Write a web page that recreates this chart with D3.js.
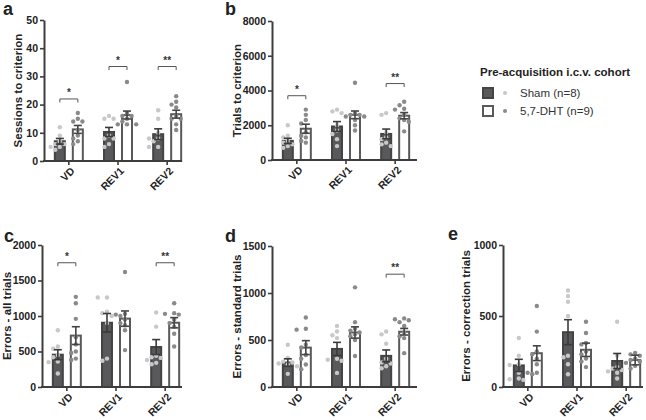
<!DOCTYPE html>
<meta charset="utf-8">
<style>
  body { margin: 0; background: #fff; }
  text { font-family: "Liberation Sans", Arial, sans-serif; }
</style>
<svg width="646" height="420"></svg>
<script src="https://d3js.org/d3.v7.min.js"></script>
<script>
var categories = ["VD", "REV1", "REV2"];
var groups = ["sham", "dht"];
var legendLabels = ["Sham (n=8)", "5,7-DHT (n=9)"];
var legendTitle = "Pre-acquisition i.c.v. cohort";

// a - sessions to criterion
var sessionsShamMean = [7, 10.3, 9.5];
var sessionsShamSem = [1.0, 1.6, 1.9];
var sessionsDhtMean = [11.2, 16.3, 16.6];
var sessionsDhtSem = [1.4, 1.4, 1.4];
var sessionsShamPts = [[12, 9, 7, 6, 6, 5, 5, 4], [16, 15, 15, 9, 8, 8, 6, 5], [18, 15, 10, 8, 8, 7, 5, 5]];
var sessionsDhtPts = [[17, 15, 14, 14, 11, 9, 8, 7, 6], [28, 17, 16, 16, 15, 14, 13, 13, 13], [23, 21, 20, 19, 16, 15, 15, 13, 11]];
var sessionsSig = [["VD", 22, "*"], ["REV1", 33.5, "*"], ["REV2", 33.5, "**"]];

// b - trials to criterion
var trialsShamMean = [1100, 1930, 1500];
var trialsShamSem = [150, 280, 280];
var trialsDhtMean = [1800, 2600, 2550];
var trialsDhtSem = [260, 220, 180];
var trialsShamPts = [[2000, 1400, 1300, 1100, 1000, 900, 800, 700], [2800, 2900, 2700, 2000, 1700, 1500, 1200, 800], [2700, 2600, 1600, 1300, 1200, 1000, 900, 800]];
var trialsDhtPts = [[2900, 2600, 2300, 2100, 1600, 1400, 1300, 1100, 1000], [4450, 2700, 2600, 2600, 2500, 2500, 2300, 2000, 1700], [3350, 3150, 2950, 2900, 2600, 2400, 2300, 2200, 1650]];
var trialsSig = [["VD", 3700, "*"], ["REV2", 4400, "**"]];

// c - errors, all trials
var allShamMean = [455, 905, 563];
var allShamSem = [70, 130, 105];
var allDhtMean = [724, 963, 905];
var allDhtSem = [125, 108, 72];
var allShamPts = [[800, 570, 540, 450, 420, 360, 350, 190], [1260, 1260, 1060, 1040, 1000, 900, 400, 370], [1050, 850, 440, 420, 410, 380, 340, 320]];
var allDhtPts = [[1270, 1180, 960, 700, 600, 500, 480, 400, 380], [1620, 1030, 1020, 1000, 950, 900, 870, 800, 520], [1180, 1040, 1030, 1020, 950, 900, 850, 750, 570]];
var allSig = [["VD", 1750, "*"], ["REV2", 1750, "**"]];

// d - errors, standard trials
var stdShamMean = [260, 405, 331];
var stdShamSem = [40, 70, 63];
var stdDhtMean = [419, 580, 588];
var stdDhtSem = [74, 60, 35];
var stdShamPts = [[450, 310, 270, 260, 250, 240, 220, 140], [650, 590, 550, 520, 300, 290, 280, 150], [590, 560, 460, 300, 260, 250, 220, 200]];
var stdDhtPts = [[740, 620, 610, 450, 420, 340, 300, 240, 190], [1060, 690, 620, 600, 580, 560, 540, 500, 330], [730, 720, 710, 690, 650, 580, 540, 520, 360]];
var stdSig = [["REV2", 1200, "**"]];

// e - errors, correction trials
var corShamMean = [152, 386, 183];
var corShamSem = [43, 88, 53];
var corDhtMean = [238, 262, 190];
var corDhtSem = [52, 47, 34];
var corShamPts = [[345, 220, 160, 155, 100, 60, 50, 55], [680, 640, 600, 500, 220, 210, 160, 90], [460, 220, 140, 130, 120, 110, 100, 60]];
var corDhtPts = [[570, 390, 250, 230, 200, 160, 100, 100, 90], [460, 380, 310, 300, 250, 230, 200, 180, 140], [240, 230, 220, 200, 190, 180, 170, 150, 130]];
var corSig = [];

var svg = d3.select("svg");
var axisCol = "#3d3d3d",
    shamFill = "#59595c",
    shamDot = "#c8c8c8",
    dhtDot = "#8a8a8a",
    font = '"Liberation Sans", Arial, sans-serif';

var panels = [
  {letter: "a", lx: 3, ly: 15, title: "Sessions to criterion", tx: 18, x0: 44, x1: 182, yTop: 20, yZero: 161, max: 50, step: 10,
   sm: sessionsShamMean, ss: sessionsShamSem, dm: sessionsDhtMean, ds: sessionsDhtSem, sp: sessionsShamPts, dp: sessionsDhtPts, sig: sessionsSig},
  {letter: "b", lx: 225, ly: 15, title: "Trials to criterion", tx: 237, x0: 272, x1: 417, yTop: 21, yZero: 160, max: 8000, step: 2000,
   sm: trialsShamMean, ss: trialsShamSem, dm: trialsDhtMean, ds: trialsDhtSem, sp: trialsShamPts, dp: trialsDhtPts, sig: trialsSig},
  {letter: "c", lx: 4, ly: 242, title: "Errors - all trials", tx: 7, x0: 42, x1: 182, yTop: 245, yZero: 387, max: 2000, step: 500,
   sm: allShamMean, ss: allShamSem, dm: allDhtMean, ds: allDhtSem, sp: allShamPts, dp: allDhtPts, sig: allSig},
  {letter: "d", lx: 225, ly: 242, title: "Errors - standard trials", tx: 237, x0: 272, x1: 417, yTop: 246, yZero: 387, max: 1500, step: 500,
   sm: stdShamMean, ss: stdShamSem, dm: stdDhtMean, ds: stdDhtSem, sp: stdShamPts, dp: stdDhtPts, sig: stdSig},
  {letter: "e", lx: 448, ly: 240, title: "Errors - correction trials", tx: 466, x0: 503, x1: 643, yTop: 245, yZero: 387, max: 1000, step: 500,
   sm: corShamMean, ss: corShamSem, dm: corDhtMean, ds: corDhtSem, sp: corShamPts, dp: corDhtPts, sig: corSig}
];

panels.forEach(function(p) {
  var g = svg.append("g");

  var x = d3.scaleBand()
      .domain(categories)
      .range([p.x0, p.x0 + 148])
      .paddingInner(0.39)
      .paddingOuter(0.2);

  var xs = d3.scaleBand()
      .domain(groups)
      .range([0, x.bandwidth()])
      .paddingInner(0.333);

  var y = d3.scaleLinear()
      .domain([0, p.max])
      .range([p.yZero, p.yTop]);

  var bw = xs.bandwidth();
  function cx(cat, grp) { return x(cat) + xs(grp) + bw / 2; }

  var series = [
    {grp: "sham", mean: p.sm, sem: p.ss, pts: p.sp},
    {grp: "dht", mean: p.dm, sem: p.ds, pts: p.dp}
  ];

  // bars
  series.forEach(function(s) {
    g.selectAll(null)
      .data(categories)
      .enter().append("rect")
        .attr("x", function(c) { return x(c) + xs(s.grp) + 1; })
        .attr("width", bw - 2)
        .attr("y", function(c, i) { return y(s.mean[i]); })
        .attr("height", function(c, i) { return y(0) - y(s.mean[i]); })
        .attr("fill", s.grp == "sham" ? shamFill : "#fff")
        .attr("stroke", s.grp == "sham" ? "#444" : shamFill)
        .attr("stroke-width", 2);
  });

  // points (simple beeswarm so dots don't overlap)
  var r = 2.2;
  series.forEach(function(s) {
    categories.forEach(function(c, i) {
      var center = cx(c, s.grp);
      var placed = [];
      s.pts[i].slice().sort(d3.descending).forEach(function(v) {
        var py = y(v);
        var offs = [0, -4.6, 4.6, -9.2, 9.2, -2.3, 2.3, -6.9, 6.9];
        var px = center;
        for (var k = 0; k < offs.length; k++) {
          var tx = center + offs[k];
          var hit = placed.some(function(q) {
            return Math.hypot(q[0] - tx, q[1] - py) < 2 * r + 0.3;
          });
          if (!hit) { px = tx; break; }
        }
        placed.push([px, py]);
      });
      g.selectAll(null)
        .data(placed)
        .enter().append("circle")
          .attr("cx", function(d) { return d[0]; })
          .attr("cy", function(d) { return d[1]; })
          .attr("r", r)
          .attr("fill", s.grp == "sham" ? shamDot : dhtDot);
    });
  });

  // error bars
  series.forEach(function(s) {
    categories.forEach(function(c, i) {
      var ex = cx(c, s.grp);
      var hi = y(s.mean[i] + s.sem[i]), lo = y(s.mean[i] - s.sem[i]);
      var col = s.grp == "sham" ? "#3a3a3a" : "#444";
      g.append("line").attr("x1", ex).attr("x2", ex).attr("y1", hi).attr("y2", lo)
        .attr("stroke", col).attr("stroke-width", 1.6);
      [hi, lo].forEach(function(yy) {
        g.append("line").attr("x1", ex - 4).attr("x2", ex + 4).attr("y1", yy).attr("y2", yy)
          .attr("stroke", col).attr("stroke-width", 1.6);
      });
    });
  });

  // significance brackets
  p.sig.forEach(function(s) {
    var xa = cx(s[0], "sham"), xb = cx(s[0], "dht"), yy = y(s[1]);
    g.append("path")
      .attr("d", "M" + xa + "," + (yy + 3.5) + "V" + yy + "H" + xb + "V" + (yy + 3.5))
      .attr("fill", "none").attr("stroke", "#555").attr("stroke-width", 1);
    g.append("text")
      .attr("x", (xa + xb) / 2).attr("y", yy - 3)
      .attr("text-anchor", "middle")
      .attr("font-size", "10px").attr("font-weight", "bold").attr("fill", "#333")
      .text(s[2]);
  });

  // y axis
  var ya = g.append("g")
      .attr("transform", "translate(" + p.x0 + ",0)")
      .call(d3.axisLeft(y).tickValues(d3.range(0, p.max + 1, p.step)).tickFormat(d3.format("d"))
        .tickSize(4).tickSizeOuter(0).tickPadding(2));
  ya.select(".domain").attr("stroke", axisCol).attr("stroke-width", 2);
  ya.selectAll(".tick line").attr("stroke", axisCol).attr("stroke-width", 1.6);
  ya.selectAll(".tick text").attr("font-size", "10.5px").attr("font-weight", "bold").attr("fill", "#222")
    .style("font-family", font);

  // x axis
  var xa = g.append("g")
      .attr("transform", "translate(0," + p.yZero + ")")
      .call(d3.axisBottom(x).tickSize(4).tickSizeOuter(0).tickFormat(""));
  xa.select(".domain").remove();
  xa.selectAll(".tick line").attr("stroke", axisCol).attr("stroke-width", 1.6);
  xa.append("line").attr("x1", p.x0 - 1).attr("x2", p.x1).attr("y1", 0).attr("y2", 0)
    .attr("stroke", axisCol).attr("stroke-width", 2);

  // rotated category labels
  g.selectAll(".xlab")
    .data(categories)
    .enter().append("text")
      .attr("class", "xlab")
      .attr("transform", function(c) {
        return "translate(" + (x(c) + x.bandwidth() / 2 + 4) + "," + (p.yZero + 8) + ") rotate(-45)";
      })
      .attr("text-anchor", "end")
      .attr("dy", "0.35em")
      .attr("font-size", "10.5px").attr("font-weight", "bold").attr("fill", "#222")
      .text(function(d) { return d; });

  // axis title
  g.append("text")
    .attr("transform", "translate(" + p.tx + "," + ((p.yTop + p.yZero) / 2) + ") rotate(-90)")
    .attr("text-anchor", "middle")
    .attr("dy", "0.35em")
    .attr("font-size", "11.5px").attr("font-weight", "bold").attr("fill", "#222")
    .text(p.title);

  // panel letter
  g.append("text")
    .attr("x", p.lx).attr("y", p.ly)
    .attr("font-size", "18px").attr("font-weight", "bold").attr("fill", "#222")
    .text(p.letter);
});

// legend
var lg = svg.append("g").attr("transform", "translate(480,0)");
lg.append("text").attr("x", 0).attr("y", 76)
  .attr("font-size", "11.5px").attr("font-weight", "bold").attr("fill", "#222")
  .text(legendTitle);
groups.forEach(function(grp, i) {
  var yy = 93 + i * 18;
  lg.append("rect").attr("x", 3).attr("y", yy - 5).attr("width", 10).attr("height", 10)
    .attr("fill", grp == "sham" ? shamFill : "#fff")
    .attr("stroke", grp == "sham" ? "#444" : shamFill).attr("stroke-width", 2);
  lg.append("circle").attr("cx", 25).attr("cy", yy).attr("r", 2)
    .attr("fill", grp == "sham" ? shamDot : dhtDot);
  lg.append("text").attr("x", 40).attr("y", yy).attr("dy", "0.35em")
    .attr("font-size", "11.5px").attr("fill", "#333")
    .text(legendLabels[i]);
});
</script>
